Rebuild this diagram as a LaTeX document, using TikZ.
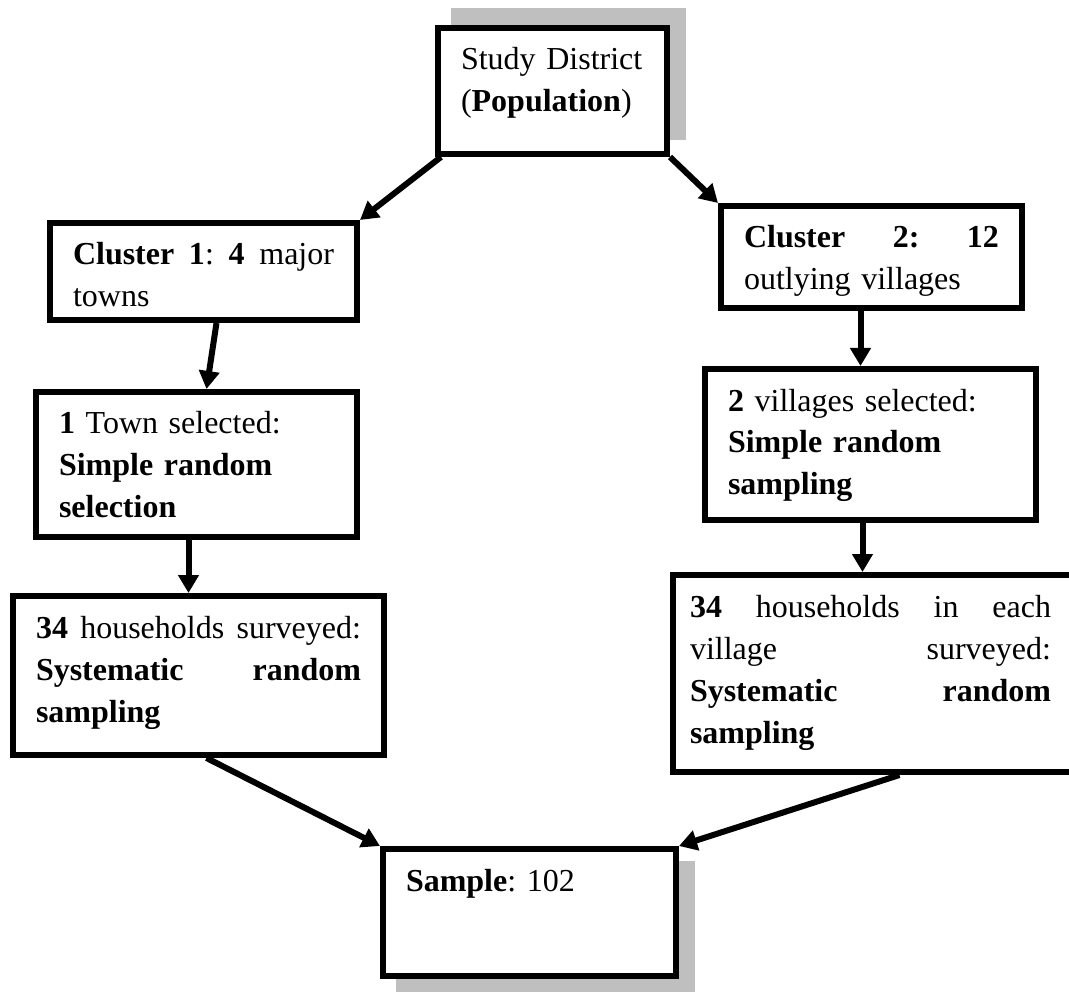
\documentclass[tikz,border=0pt]{standalone}
\usepackage{fontspec}
\setmainfont{Liberation Serif}
\usetikzlibrary{arrows.meta,shadows}

\begin{document}
\begin{tikzpicture}[
      x=1pt,
      y=-1pt,
      >={Triangle[length=18pt,width=20pt]},
      flow/.style={->, line width=6pt},
      box/.style={draw, line width=6pt, fill=white, align=left,
        font=\fontsize{32}{42}\selectfont\frenchspacing, inner xsep=23pt, inner ysep=0pt,
        text height=42pt},
      shadowup/.style={drop shadow={shadow xshift=16pt, shadow yshift=17pt,
        fill=black!25, draw=black!25, opacity=1}},
      shadowdown/.style={drop shadow={shadow xshift=16pt, shadow yshift=-15pt,
        fill=black!25, draw=black!25, opacity=1}}
    ]
    \useasboundingbox (0,0) rectangle (1069,992);

    \node[box, shadowup, text width=183pt, text depth=84pt] (study) at (552.5,91)
      {Study District\\(\textbf{Population})};
    \node[box, text width=261pt, text depth=55pt] (cl1) at (203.5,271.5)
      {\textbf{Cluster}\hfill\textbf{1}:\hfill\textbf{4}\hfill major\\towns};
    \node[box, text width=275pt, text depth=103pt] (town) at (196.5,464.5)
      {\textbf{1} Town selected:\\\textbf{Simple random}\\\textbf{selection}};
    \node[box, text width=325pt, text depth=117pt] (hh1) at (198.5,675.5)
      {\textbf{34}\hfill households\hfill surveyed:\\
       \textbf{Systematic}\hfill\textbf{random}\\\textbf{sampling}};
    \node[box, text width=255pt, text depth=60pt] (cl2) at (871.5,257)
      {\textbf{Cluster}\hfill\textbf{2:}\hfill\textbf{12}\\outlying villages};
    \node[box, text width=285pt, text depth=109pt] (vil) at (870.5,444.5)
      {\textbf{2} villages selected:\\\textbf{Simple random}\\\textbf{sampling}};
    \node[box, inner xsep=17pt, text width=383pt, text depth=155pt] (hh2) at (881.5,673.5)
      {\rightskip=22pt \textbf{34}\hfill households\hfill in\hfill each\\
       village\hfill surveyed:\\
       \textbf{Systematic}\hfill\textbf{random}\\\textbf{sampling}};
    \node[box, shadowdown, text width=247pt, text depth=85pt] (sample) at (529.5,912.5)
      {\textbf{Sample}: 102};

    \draw[flow] ([xshift=6pt]study.south west) -- (cl1.north east);
    \draw[flow] (study.south east) -- (cl2.north west);
    \draw[flow] ([xshift=13pt]cl1.south) -- ([xshift=10pt]town.north);
    \draw[flow] ([xshift=-8pt]town.south) -- ([xshift=-10pt]hh1.north);
    \draw[flow] ([xshift=-11pt]cl2.south) -- ([xshift=-10pt]vil.north);
    \draw[flow] ([xshift=-8pt]vil.south) -- ([xshift=-19pt]hh2.north);
    \draw[flow] ([xshift=8pt]hh1.south) -- (sample.north west);
    \draw[flow] ([xshift=18pt]hh2.south) -- (sample.north east);
  \end{tikzpicture}
\end{document}
